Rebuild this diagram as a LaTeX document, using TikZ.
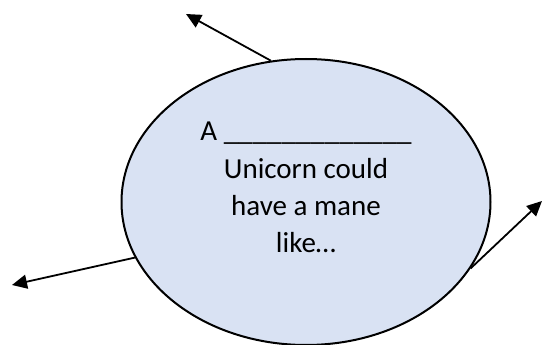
\documentclass[tikz,border=0pt]{standalone}
\usepackage{fontspec}
\setmainfont{Carlito}
\usetikzlibrary{arrows.meta,shapes.geometric}
\definecolor{bubblefill}{HTML}{D9E2F3}
\tikzset{
  bubble/.style={ellipse, draw=black, line width=2pt, fill=bubblefill,
    minimum width=369pt, minimum height=286pt, inner sep=0pt},
  ray/.style={line width=1.8pt, -{Triangle[length=15pt,width=14pt]}},
  caption/.style={align=center, font=\fontsize{29}{37.5}\selectfont, inner sep=0pt}
}
\begin{document}
\begin{tikzpicture}[x=1pt,y=-1pt]
\useasboundingbox (0,0) rectangle (542,345);
\node[bubble] (bubble) at (306,202) {};
\node[caption, anchor=base] (txt) at (306,253) {A \_\_\_\_\_\_\_\_\_\_\_\_\_\\Unicorn could\\have a mane\\like…};
\coordinate (tipTop) at (186,14);
\coordinate (tipLeft) at (12,285);
\coordinate (tipRight) at (542,201);
\draw[ray] (bubble.104.2) -- (tipTop);
\draw[ray] (bubble.198.4) -- (tipLeft);
\draw[ray] (bubble.338.3) -- (tipRight);
\end{tikzpicture}
\end{document}
